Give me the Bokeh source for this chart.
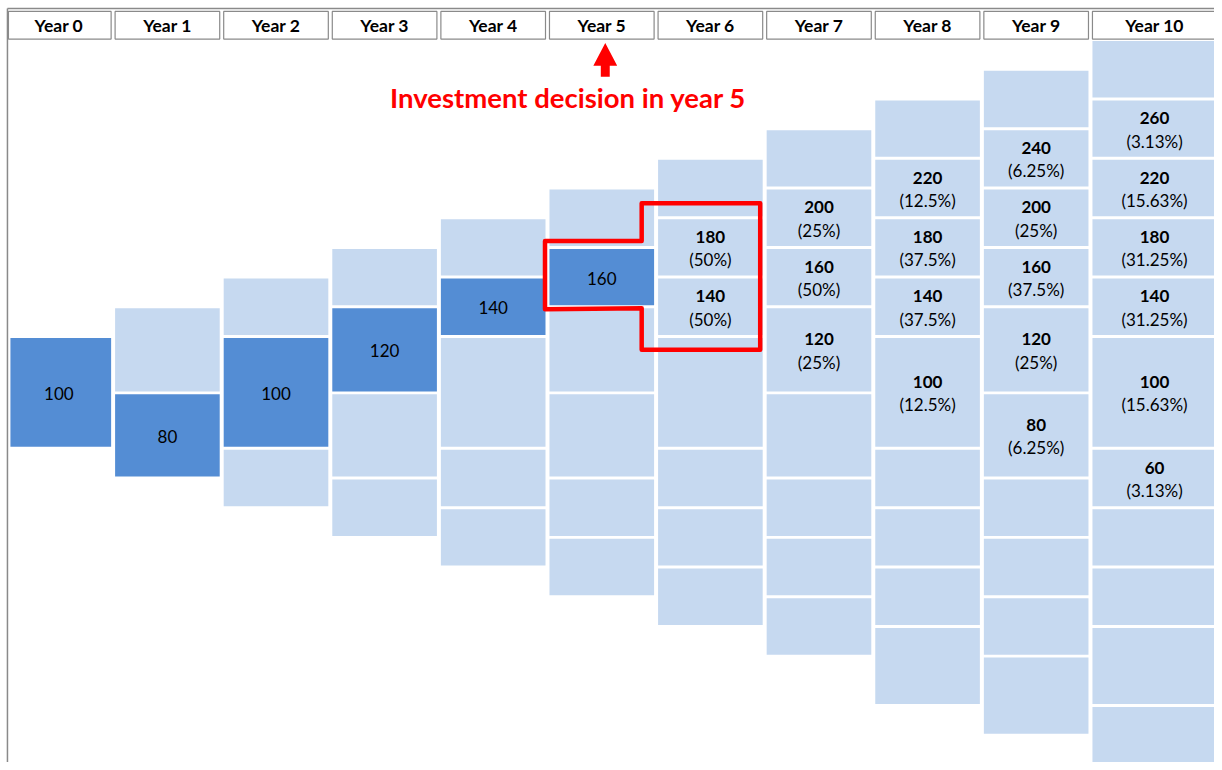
from bokeh.plotting import figure
from bokeh.models import Range1d
from bokeh.embed import file_html
from bokeh.resources import INLINE
from bokeh.core.properties import value

# ---------------- data ----------------
years = ["Year 0", "Year 1", "Year 2", "Year 3", "Year 4", "Year 5",
         "Year 6", "Year 7", "Year 8", "Year 9", "Year 10"]

# binomial lattice: node levels (up moves minus down moves) present in each year
lattice_levels = [
    [0],
    [1, -1],
    [2, 0, -2],
    [3, 1, -1, -3],
    [4, 2, 0, -2, -4],
    [5, 3, 1, -1, -3, -5],
    [6, 4, 2, 0, -2, -4, -6],
    [7, 5, 3, 1, -1, -3, -5, -7],
    [8, 6, 4, 2, 0, -2, -4, -6, -8],
    [9, 7, 5, 3, 1, -1, -3, -5, -7, -9],
    [10, 8, 6, 4, 2, 0, -2, -4, -6, -8, -10],
]
start_value = 100
step_value = 20

# realised path up to the decision year
path_years = [0, 1, 2, 3, 4, 5]
path_values = [100, 80, 100, 120, 140, 160]
decision_year = 5

# possible outcomes after the decision
out_years = [6, 6, 7, 7, 7, 8, 8, 8, 8, 9, 9, 9, 9, 9, 10, 10, 10, 10, 10, 10]
out_values = [180, 140, 200, 160, 120, 220, 180, 140, 100,
              240, 200, 160, 120, 80, 260, 220, 180, 140, 100, 60]
out_probs = [50, 50, 25, 50, 25, 12.5, 37.5, 37.5, 12.5,
             6.25, 25, 37.5, 25, 6.25, 3.13, 15.63, 31.25, 31.25, 15.63, 3.13]

annotation = "Investment decision in year 5"

# ---------------- layout (sheet geometry) ----------------
PX = 109.31          # pixels per year column
X0 = 59.2            # pixel centre of year 0
row_px = [30] * 10 + [57, 56] + [30] * 7 + [50, 30, 30]
row_tops = [40]
for h in row_px:
    row_tops.append(row_tops[-1] + h)
last_col_extra = 0.18
in_l, in_r = 1.5 / PX, 2.5 / PX

LIGHT = "#C6D9F0"
DARK = "#548DD4"
RED = "#FF0000"
GRAY = "#8a8a8a"
FONT = value("Lato")


def col_left(c):
    return c - 0.5


def col_right(c):
    return c + 0.5 + (last_col_extra if c == len(years) - 1 else 0)


def level_of(v):
    return (v - start_value) / step_value


def cell_box(c, level):
    r = int(10 - level)
    return (col_left(c) + in_l, col_right(c) - in_r, row_tops[r] + 1, row_tops[r + 2] - 2)


p = figure(width=1214, height=762, output_backend="svg", toolbar_location=None,
           x_range=Range1d((0 - X0) / PX, (1222 - X0) / PX),
           y_range=Range1d(770, 0), min_border=0)
p.axis.visible = False
p.grid.visible = False
p.outline_line_color = None
p.background_fill_color = "white"

# sheet border lines
p.segment(x0=[(7 - X0) / PX], y0=[8], x1=[(1222 - X0) / PX], y1=[8],
          line_color=GRAY, line_width=1.5)
p.segment(x0=[(7 - X0) / PX], y0=[8], x1=[(7 - X0) / PX], y1=[770],
          line_color=GRAY, line_width=1.5)

# header boxes
hx_l = [max(col_left(c) + in_l, (8 - X0) / PX) for c in range(len(years))]
hx_r = [col_right(c) - in_r for c in range(len(years))]
hx_c = [(col_left(c) + in_l + r) / 2 for c, r in enumerate(hx_r)]
p.quad(left=hx_l, right=hx_r, top=[11] * len(years), bottom=[39] * len(years),
       fill_color="white", line_color=GRAY, line_width=1.2)
p.text(x=hx_c, y=[25.5] * len(years), text=years,
       text_align="center", text_baseline="middle", text_font=FONT,
       text_font_style="bold", text_font_size="17.5px", text_color="black")

# lattice cells
path_set = {(c, level_of(v)) for c, v in zip(path_years, path_values)}
L, R, T, B, C = [], [], [], [], []
for c, levels in enumerate(lattice_levels):
    for lv in levels:
        l, r, t, b = cell_box(c, lv)
        l = max(l, (10 - X0) / PX)
        L.append(l); R.append(r); T.append(t); B.append(b)
        C.append(DARK if (c, lv) in path_set else LIGHT)
p.quad(left=L, right=R, top=T, bottom=B, fill_color=C, line_color=None)

# path labels
px_, py_ = [], []
for c, v in zip(path_years, path_values):
    l, r, t, b = cell_box(c, level_of(v))
    px_.append((l + r) / 2); py_.append((t + b) / 2 + 1)
p.text(x=px_, y=py_, text=[str(v) for v in path_values], text_align="center",
       text_baseline="middle", text_font=FONT, text_font_size="17px", text_color="black")

# outcome labels
ox, oy1, oy2 = [], [], []
for c, v in zip(out_years, out_values):
    l, r, t, b = cell_box(c, level_of(v))
    cy = (t + b) / 2
    ox.append((l + r) / 2); oy1.append(cy - 10.5); oy2.append(cy + 12.5)
p.text(x=ox, y=oy1, text=[str(v) for v in out_values], text_align="center",
       text_baseline="middle", text_font=FONT, text_font_style="bold",
       text_font_size="17px", text_color="black")
p.text(x=ox, y=oy2, text=[f"({q:g}%)" for q in out_probs], text_align="center",
       text_baseline="middle", text_font=FONT, text_font_size="17px", text_color="black")

# annotation arrow + text
ax = decision_year + 3 / PX
hw, sw = 12 / PX, 4.5 / PX
p.patch(x=[ax, ax + hw, ax + sw, ax + sw, ax - sw, ax - sw, ax - hw],
        y=[43, 66, 66, 77, 77, 66, 66], fill_color=RED, line_color=None)
p.text(x=[(571.5 - X0) / PX], y=[98.5], text=[annotation], text_align="center",
       text_baseline="middle", text_font=FONT, text_font_style="bold",
       text_font_size="27.5px", text_color=RED)

# decision outline
d = decision_year
x1 = col_left(d) - 3 / PX
x2 = col_left(d + 1) - 15 / PX
x3 = col_right(d + 1) - 5 / PX
y_top = row_tops[5] + 15
y_a = row_tops[7] - 7
y_b = row_tops[9] + 1
y_bot = row_tops[10] + 13
p.patch(x=[x1, x2, x2, x3, x3, x2, x2, x1],
        y=[y_a, y_a, y_top, y_top, y_bot, y_bot, y_b, y_b + 1],
        fill_alpha=0, line_color=RED, line_width=4.5, line_join="round")

open("out.html", "w").write(file_html(p, INLINE))
